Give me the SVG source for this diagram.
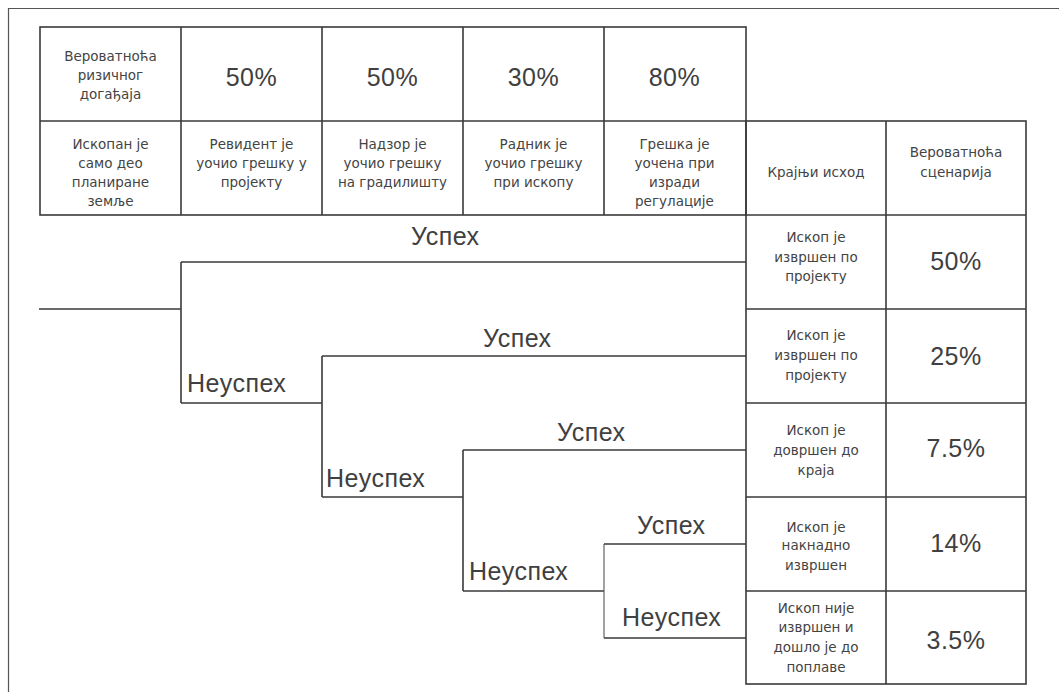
<svg xmlns="http://www.w3.org/2000/svg" width="1059" height="692" viewBox="0 0 1059 692">
  <style>
    .grid { fill: none; stroke: #3a3a3a; stroke-width: 1.6; }
    .frame { fill: none; stroke: #555; stroke-width: 1.2; }
    .edge { fill: none; stroke: #3a3a3a; stroke-width: 1.6; }
    .edge-thin { fill: none; stroke: #555; stroke-width: 1.1; }
    .sm { font-family: "DejaVu Sans", "Liberation Sans", sans-serif; font-size: 13.5px; fill: #444; text-anchor: middle; }
    .big { font-family: "Liberation Sans", Arial, sans-serif; font-size: 25px; letter-spacing: 0.5px; fill: #404040; text-anchor: middle; }
    .lbl { font-family: "Liberation Sans", Arial, sans-serif; font-size: 25px; letter-spacing: 0.5px; fill: #404040; }
  </style>
  <rect width="1059" height="692" fill="#ffffff"/>
  <!-- page frame, open to the right and bottom -->
  <path class="frame" d="M8.5 692 V8.5 H1059"/>

  <!-- probability header table -->
  <g id="header-table">
    <rect class="grid" x="40" y="27" width="706" height="188"/>
    <path class="grid" d="M40 121 H746 M181 27 V215 M322 27 V215 M463 27 V215 M604 27 V215"/>
    <g id="cell-risk-probability">
      <text class="sm" x="110.5" y="61">Вероватноћа</text>
      <text class="sm" x="110.5" y="80">ризичног</text>
      <text class="sm" x="110.5" y="99">догађаја</text>
    </g>
    <text id="p1" class="big" x="251.5" y="86">50%</text>
    <text id="p2" class="big" x="392.5" y="86">50%</text>
    <text id="p3" class="big" x="533.5" y="86">30%</text>
    <text id="p4" class="big" x="674.5" y="86">80%</text>
    <g id="event-0">
      <text class="sm" x="110.5" y="149">Ископан је</text>
      <text class="sm" x="110.5" y="168">само део</text>
      <text class="sm" x="110.5" y="187">планиране</text>
      <text class="sm" x="110.5" y="206">земље</text>
    </g>
    <g id="event-1">
      <text class="sm" x="251.5" y="149">Ревидент је</text>
      <text class="sm" x="251.5" y="168">уочио грешку у</text>
      <text class="sm" x="251.5" y="187">пројекту</text>
    </g>
    <g id="event-2">
      <text class="sm" x="392.5" y="149">Надзор је</text>
      <text class="sm" x="392.5" y="168">уочио грешку</text>
      <text class="sm" x="392.5" y="187">на градилишту</text>
    </g>
    <g id="event-3">
      <text class="sm" x="533.5" y="149">Радник је</text>
      <text class="sm" x="533.5" y="168">уочио грешку</text>
      <text class="sm" x="533.5" y="187">при ископу</text>
    </g>
    <g id="event-4">
      <text class="sm" x="674.5" y="149">Грешка је</text>
      <text class="sm" x="674.5" y="168">уочена при</text>
      <text class="sm" x="674.5" y="187">изради</text>
      <text class="sm" x="674.5" y="206">регулације</text>
    </g>
  </g>

  <!-- outcome table -->
  <g id="outcome-table">
    <rect class="grid" x="746" y="121" width="280" height="563"/>
    <path class="grid" d="M886 121 V684 M746 215 H1026 M746 309 H1026 M746 403 H1026 M746 497 H1026 M746 591 H1026"/>
    <g id="head-outcome">
      <text class="sm" x="816" y="177">Крајњи исход</text>
    </g>
    <g id="head-scenario">
      <text class="sm" x="956" y="157">Вероватноћа</text>
      <text class="sm" x="956" y="177">сценарија</text>
    </g>
    <g id="outcome-1">
      <text class="sm" x="816" y="242">Ископ је</text>
      <text class="sm" x="816" y="262">извршен по</text>
      <text class="sm" x="816" y="281">пројекту</text>
      <text class="big" x="956" y="270">50%</text>
    </g>
    <g id="outcome-2">
      <text class="sm" x="816" y="340">Ископ је</text>
      <text class="sm" x="816" y="360">извршен по</text>
      <text class="sm" x="816" y="380">пројекту</text>
      <text class="big" x="956" y="365">25%</text>
    </g>
    <g id="outcome-3">
      <text class="sm" x="816" y="435">Ископ је</text>
      <text class="sm" x="816" y="455">довршен до</text>
      <text class="sm" x="816" y="475">краја</text>
      <text class="big" x="956" y="457">7.5%</text>
    </g>
    <g id="outcome-4">
      <text class="sm" x="816" y="532">Ископ је</text>
      <text class="sm" x="816" y="550">накнадно</text>
      <text class="sm" x="816" y="570">извршен</text>
      <text class="big" x="956" y="552">14%</text>
    </g>
    <g id="outcome-5">
      <text class="sm" x="816" y="613">Ископ није</text>
      <text class="sm" x="816" y="632">извршен и</text>
      <text class="sm" x="816" y="652">дошло је до</text>
      <text class="sm" x="816" y="672">поплаве</text>
      <text class="big" x="956" y="649">3.5%</text>
    </g>
  </g>

  <!-- event tree branches -->
  <g id="connectors">
    <path class="edge" d="M39 309 H181 M181 262 V403 M181 262 H746 M181 403 H322"/>
    <path class="edge" d="M322 356 V497 M322 356 H746 M322 497 H463"/>
    <path class="edge" d="M463 450 V591 M463 450 H746 M463 591 H604"/>
    <path class="edge-thin" d="M604 544 V638"/>
    <path class="edge" d="M604 544 H746 M604 638 H746"/>
  </g>

  <!-- branch labels -->
  <g id="branch-labels">
    <text class="lbl" x="411" y="245">Успех</text>
    <text class="lbl" x="187" y="392">Неуспех</text>
    <text class="lbl" x="483" y="347">Успех</text>
    <text class="lbl" x="326" y="487">Неуспех</text>
    <text class="lbl" x="557" y="441">Успех</text>
    <text class="lbl" x="469" y="580">Неуспех</text>
    <text class="lbl" x="637" y="534">Успех</text>
    <text class="lbl" x="622" y="626">Неуспех</text>
  </g>
</svg>
